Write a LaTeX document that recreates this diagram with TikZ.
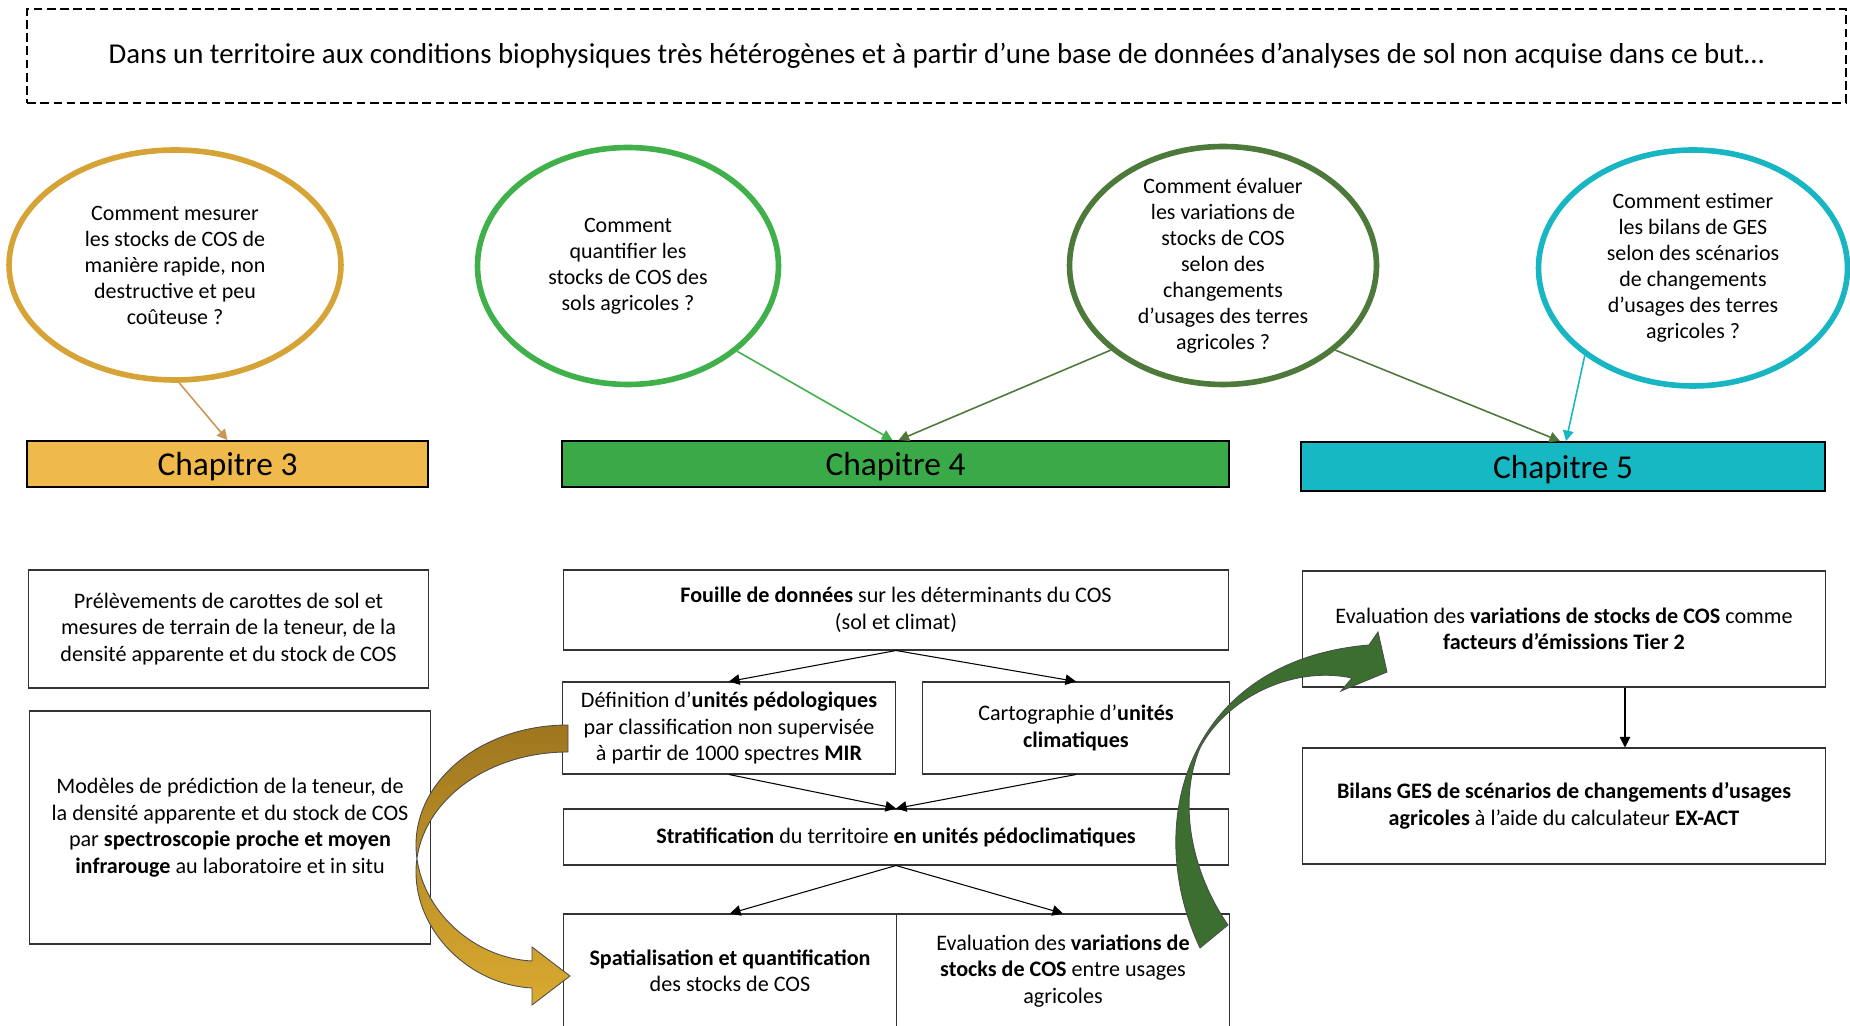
\documentclass[tikz,border=0pt]{standalone}
\usepackage{fontspec}
\setmainfont{Carlito}
\usetikzlibrary{shapes.geometric, arrows.meta, calc}

\definecolor{orq}{RGB}{214,163,55}
\definecolor{orch}{RGB}{240,185,75}
\definecolor{orfl}{RGB}{205,150,85}
\definecolor{orclair}{RGB}{218,170,48}
\definecolor{orfonce}{RGB}{158,118,30}
\definecolor{vertq}{RGB}{64,176,74}
\definecolor{vertch}{RGB}{58,170,72}
\definecolor{vertf}{RGB}{77,122,58}
\definecolor{vertfl}{RGB}{60,110,48}
\definecolor{cyanq}{RGB}{23,182,194}
\definecolor{cyanch}{RGB}{22,184,196}

\tikzset{
  ques/.style={ellipse, draw=#1, line width=3.2pt, inner sep=0pt},
  qtexte/.style={align=center, inner sep=0pt, font=\fontsize{12.5}{14.8}\selectfont},
  chap/.style={rectangle, draw=black, line width=1pt, fill=#1, inner sep=0pt, text depth=0pt, font=\fontsize{19}{22}\selectfont},
  boite/.style={rectangle, draw=black!80, line width=0.6pt, inner sep=0pt, align=center, font=\fontsize{12.6}{15.1}\selectfont},
  fl/.style={draw=#1, line width=0.9pt, -{Triangle[length=6pt,width=6pt]}},
  flnoir/.style={draw=black, line width=0.6pt, -{Triangle[length=6pt,width=6pt]}},
  bande/.style={draw=black!70, line width=0.5pt}
}

\begin{document}
\begin{tikzpicture}[x=0.02cm, y=-0.02cm]
  \useasboundingbox (0,0) rectangle (1850,1026);

  \node[draw, dashed, dash pattern=on 5pt off 2.5pt, line width=1.1pt, minimum width=36.38cm, minimum height=1.88cm, inner sep=0pt, font=\fontsize{16.4}{19}\selectfont] (titre) at (936.5,56) {Dans un territoire aux conditions biophysiques très hétérogènes et à partir d’une base de données d’analyses de sol non acquise dans ce but…};

  \node[ques=orq, minimum width=6.64cm, minimum height=4.6cm] (q3) at (175,265) {};
  \node[qtexte] at (q3) {Comment mesurer\\les stocks de COS de\\manière rapide, non\\destructive et peu\\coûteuse ?};
  \node[ques=vertq, minimum width=6.02cm, minimum height=4.74cm] (q4a) at (628,266) {};
  \node[qtexte] at (q4a) {Comment\\quantifier les\\stocks de COS des\\sols agricoles ?};
  \node[ques=vertf, minimum width=6.14cm, minimum height=4.76cm] (q4b) at (1223,265.5) {};
  \node[qtexte] at (q4b) {Comment évaluer\\les variations de\\stocks de COS\\selon des\\changements\\d’usages des terres\\agricoles ?};
  \node[ques=cyanq, minimum width=6.18cm, minimum height=4.72cm] (q5) at (1693,268) {};
  \node[qtexte] at (q5) {Comment estimer\\les bilans de GES\\selon des scénarios\\de changements\\d’usages des terres\\agricoles ?};

  \node[chap=orch, minimum width=8.02cm, minimum height=0.92cm] (c3) at (227.5,464) {Chapitre 3};
  \node[chap=vertch, minimum width=13.34cm, minimum height=0.92cm] (c4) at (895.5,464) {Chapitre 4};
  \node[chap=cyanch, minimum width=10.48cm, minimum height=0.98cm] (c5) at (1563,466.5) {Chapitre 5};

  \draw[fl=orfl] (q3.272) -- (c3.north);
  \draw[fl=vertq] (q4a.322) -- ($(c4.north)+(-3,0)$);
  \draw[fl=vertf] (q4b.217) -- ($(c4.north)+(3,0)$);
  \draw[fl=vertf] (q4b.323) -- ($(c5.north)+(-3,0)$);
  \draw[fl=cyanq] (q5.219) -- ($(c5.north)+(3,0)$);

  \node[boite, minimum width=8.02cm, minimum height=2.36cm] (l1) at (228.5,629) {Prélèvements de carottes de sol et\\mesures de terrain de la teneur, de la\\densité apparente et du stock de COS};
  \node[boite, minimum width=8.02cm, minimum height=4.66cm] (l2) at (230,827.5) {Modèles de prédiction de la teneur, de\\la densité apparente et du stock de COS\\par \textbf{spectroscopie proche et moyen}\\\textbf{infrarouge} au laboratoire et in situ};

  \node[boite, minimum width=13.32cm, minimum height=1.6cm] (fo) at (896,610) {\textbf{Fouille de données} sur les déterminants du COS\\(sol et climat)};
  \node[boite, minimum width=6.66cm, minimum height=1.84cm] (de) at (729,728) {Définition d’\textbf{unités pédologiques}\\par classification non supervisée\\à partir de 1000 spectres \textbf{MIR}};
  \node[boite, minimum width=6.14cm, minimum height=1.84cm] (ca) at (1076,728) {Cartographie d’\textbf{unités}\\\textbf{climatiques}};
  \node[boite, minimum width=13.32cm, minimum height=1.12cm] (st) at (896,837) {\textbf{Stratification} du territoire \textbf{en unités pédoclimatiques}};
  \node[boite, minimum width=6.67cm, minimum height=2.28cm] (sp) at (730,971) {\textbf{Spatialisation et quantification}\\des stocks de COS};
  \node[boite, minimum width=6.65cm, minimum height=2.28cm] (ev) at (1063,971) {Evaluation des \textbf{variations de}\\\textbf{stocks de COS} entre usages\\agricoles};

  \node[boite, minimum width=10.46cm, minimum height=2.32cm] (ti) at (1564,629) {Evaluation des \textbf{variations de stocks de COS} comme\\\textbf{facteurs d’émissions Tier 2}};
  \node[boite, minimum width=10.46cm, minimum height=2.32cm] (bi) at (1564,806) {\textbf{Bilans GES de scénarios de changements d’usages}\\\textbf{agricoles} à l’aide du calculateur \textbf{EX-ACT}};

  \draw[flnoir] (fo.south) -- (de.north);
  \draw[flnoir] (fo.south) -- (ca.north);
  \draw[flnoir] (de.south) -- (st.north);
  \draw[flnoir] (ca.south) -- (st.north);
  \draw[flnoir] (st.south) -- (sp.north);
  \draw[flnoir] (st.south) -- (ev.north);
  \draw[flnoir] ([xshift=1.22cm]ti.south) -- ([xshift=1.22cm]bi.north);

  \draw[bande, top color=orfonce, bottom color=orclair] (568,725) .. controls (483,725) and (416,779) .. (416,845)
    .. controls (416,905) and (470,958) .. (532,961)
    -- (532,947) -- (570,976) -- (532,1005) -- (532,988)
    .. controls (470,985) and (416,932) .. (416,872)
    .. controls (416,806) and (483,752) .. (568,752) -- cycle;

  \draw[bande, fill=vertfl] (1200,948) .. controls (1140,820) and (1190,660) .. (1369,645)
    -- (1378,632) -- (1387,672) -- (1341,691) -- (1352,678)
    .. controls (1290,665) and (1225,700) .. (1200,748)
    .. controls (1178,800) and (1190,870) .. (1228,925) -- cycle;
\end{tikzpicture}
\end{document}
